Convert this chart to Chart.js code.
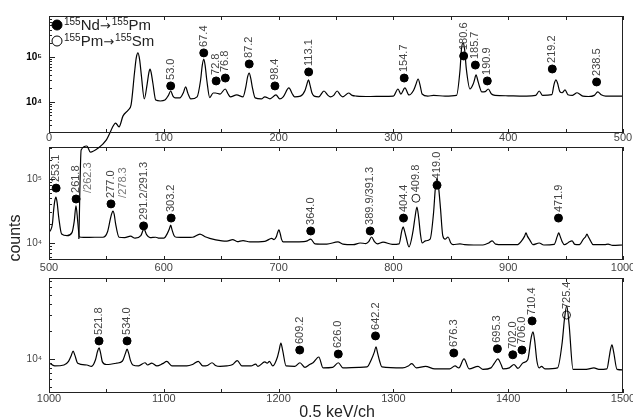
<!DOCTYPE html>
<html>
<head>
<meta charset="utf-8">
<script src="https://cdn.jsdelivr.net/npm/chart.js@4.4.1/dist/chart.umd.min.js"></script>
<style>
  html, body { margin: 0; padding: 0; background: #fff; }
  #wrap { position: relative; width: 633px; height: 420px; }
  canvas { position: absolute; left: 0; top: 0; }
</style>
</head>
<body>
<div id="wrap">
  <canvas id="p3" width="633" height="420"></canvas>
  <canvas id="p2" width="633" height="420"></canvas>
  <canvas id="p1" width="633" height="420"></canvas>
</div>
<script>
// spectrum, channels 0-500
const ch1 = [26, 28, 33, 36, 43, 50, 53, 55, 58, 61,
  64.5, 69, 71.5, 74.5, 76, 77.5, 79, 80.5, 83, 85.5,
  87, 88, 89, 90.5, 93, 97, 101, 104, 106, 108,
  110, 114, 117, 119, 121, 123.5, 129, 132, 133.5, 134.8,
  136, 137.5, 140, 143, 145, 149, 153.5, 156, 158, 163.5,
  169, 171.5, 173, 174.4, 175.8, 177, 179.6, 185, 188, 192.5,
  197.7, 201, 204, 209, 212, 214, 219, 223, 224.5, 226,
  227.5, 229, 231, 235, 239.5, 243, 245, 248, 251, 254,
  256, 261, 264, 268, 280, 290, 300, 304, 306.5, 310,
  313.6, 317.5, 319.5, 321.5, 323.5, 325, 330, 335, 345, 355,
  358, 359.3, 360.6, 362, 363.5, 366.7, 369.5, 370.5, 372, 373.5,
  375, 377, 380, 382.6, 385.5, 388.5, 400, 410, 416, 424,
  427, 430, 438, 440, 441.6, 443, 445, 447, 449.5, 452,
  456, 460, 465, 470, 475, 478, 481, 485, 500];
const cnt1 = [9, 860, 1050, 770, 950, 1440, 2040, 2640, 3400, 2800,
  4900, 6600, 8600, 45000, 95000, 123000, 85000, 38000, 11700, 25000,
  45000, 54000, 45000, 26000, 11000, 10500, 11000, 14000, 17500, 13500,
  12300, 12300, 16000, 21600, 15500, 11700, 13000, 30000, 65000, 90000,
  65000, 30000, 12500, 15800, 15800, 15000, 19400, 15000, 13000, 14300,
  13000, 22000, 36000, 44000, 33000, 22000, 12300, 11700, 13000, 11700,
  14300, 11700, 13000, 20500, 15000, 13000, 13500, 18000, 24000, 31000,
  23000, 16000, 13500, 13000, 17500, 14000, 13000, 14000, 17500, 14000,
  13000, 15800, 14000, 13500, 13200, 13300, 13500, 19400, 15000, 20500,
  14300, 18000, 24000, 32400, 22000, 15000, 13500, 14000, 13500, 14000,
  50000, 150000, 205000, 150000, 55000, 19400, 25000, 30000, 40000, 30000,
  22000, 16700, 17000, 19400, 15000, 14000, 13700, 13500, 13500, 14000,
  17500, 14000, 14500, 25000, 31000, 26000, 17000, 16000, 18500, 14500,
  14000, 16000, 13500, 13200, 14000, 16700, 14500, 13500, 13500];

// spectrum, channels 500-1000
const ch2 = [500, 503, 504, 505, 506, 507, 508.5, 511, 515.7, 520,
  522, 523.5, 525, 526.5, 530, 540, 547, 551, 553.5, 554.7,
  555.7, 556.8, 558, 561, 566, 571, 575, 580, 582.7, 585,
  588, 593, 596, 600, 603, 604.8, 606, 607.2, 609, 611,
  620, 625, 631.5, 636, 640, 650.7, 655, 660, 664, 669,
  675, 688, 694, 696, 698, 699.1, 700.3, 701.5, 702.5, 704,
  712, 722, 725, 728, 731.7, 742, 751.7, 756, 765, 771,
  776, 778.5, 781, 783.5, 786, 791, 799, 805, 807.3, 808.5,
  809.7, 811, 813.6, 817, 818.8, 820.5, 822, 823.5, 825, 828,
  832, 835, 836.5, 838, 839.5, 841, 843, 845, 847.6, 850,
  852, 858, 862, 870, 878, 883, 886, 889, 895, 907.7,
  912, 914.3, 915.5, 916.7, 919, 921.5, 927, 931, 940, 942.8,
  944, 945.2, 947, 949, 952.5, 955.6, 958, 962, 965.5, 967.4,
  968.6, 969.8, 971.5, 974, 984, 987, 991, 1000];
const cnt2 = [14400, 20000, 32000, 45000, 52000, 44000, 25000, 13800, 13000, 14500,
  22000, 38000, 22000, 12400, 12200, 12300, 12300, 15000, 24000, 29000,
  31600, 28000, 20000, 12300, 12100, 12800, 11900, 13000, 16600, 13500,
  12100, 12300, 11900, 11900, 14000, 16500, 19000, 16000, 13000, 12300,
  12200, 12300, 13800, 12500, 11800, 10800, 10700, 11300, 10500, 10900,
  10400, 10600, 11800, 11300, 12500, 14500, 16000, 13800, 11500, 10400,
  10400, 10500, 10800, 11500, 9700, 9600, 10400, 9600, 9400, 10000,
  9800, 10500, 12400, 10500, 9700, 10300, 9500, 9700, 15500, 17800,
  15500, 12500, 8700, 15000, 25000, 36500, 25000, 14000, 10000, 10800,
  11500, 30000, 70000, 103000, 70000, 35000, 13000, 11500, 12400, 10000,
  9400, 9700, 9400, 9300, 9300, 10000, 10800, 9600, 9400, 9400,
  11000, 12800, 14400, 12800, 11000, 9400, 10000, 9300, 9500, 12800,
  14400, 12800, 10500, 9400, 10200, 10800, 9500, 9400, 11500, 12500,
  13800, 12500, 11000, 9400, 9400, 9600, 9200, 9300];

// spectrum, channels 1000-1500
const ch3 = [1000, 1005, 1013, 1017, 1019.5, 1021, 1022.5, 1025, 1033, 1037,
  1040.5, 1042.2, 1043.6, 1045, 1046.5, 1050, 1059, 1064, 1066.6, 1068,
  1069.4, 1071, 1073, 1078, 1083.6, 1086, 1089.5, 1094, 1099, 1102.6,
  1107, 1120, 1125, 1130, 1134, 1138, 1142, 1145, 1149, 1155,
  1160, 1164, 1168, 1176, 1180, 1182, 1188, 1190, 1192, 1195,
  1199, 1200.5, 1202, 1203.5, 1206.5, 1214, 1218.6, 1223, 1227, 1230,
  1235, 1238.7, 1247, 1252, 1256, 1270, 1277, 1281, 1283.3, 1284.8,
  1286.3, 1288, 1290, 1308, 1313, 1316, 1320, 1328, 1336, 1349,
  1353.7, 1357, 1361.5, 1366, 1373.7, 1378, 1385, 1388, 1391, 1394,
  1395.5, 1401, 1405, 1408.5, 1413, 1417, 1420, 1421.6, 1423, 1425,
  1427, 1429, 1432, 1443, 1447, 1449, 1451, 1453, 1456.5, 1468,
  1474.7, 1479, 1486, 1488, 1489, 1490.4, 1491.8, 1494.8, 1500];
const cnt3 = [9100, 8400, 8600, 9400, 11000, 12200, 11000, 9000, 8600, 8300,
  9800, 12000, 13200, 11500, 9300, 8700, 9000, 9500, 11500, 12800,
  11500, 9600, 8600, 8400, 9100, 8600, 9000, 8400, 8900, 9400,
  8400, 8400, 8700, 9400, 8400, 8500, 9100, 8500, 8300, 8400,
  8700, 9600, 8400, 8400, 8800, 8300, 9300, 9000, 9400, 8400,
  10500, 12500, 14900, 12500, 8400, 8300, 9100, 8100, 8700, 9100,
  10500, 8000, 8100, 9100, 8000, 8100, 8200, 10000, 11800, 13500,
  11500, 9500, 8200, 8000, 8400, 8900, 8000, 8300, 7800, 7800,
  8400, 8000, 10000, 7800, 8300, 7700, 8000, 9000, 10000, 8600,
  7800, 8000, 8700, 7900, 9100, 9800, 17000, 19700, 16000, 9500,
  8000, 8300, 7800, 8000, 15000, 27000, 37700, 24000, 7700, 7700,
  8000, 7700, 7800, 10500, 12500, 14200, 12000, 7700, 7600];

// 155Nd -> 155Pm lines (keV, marker height in counts)
const ndKeV1 = [53.0, 67.4, 72.8, 76.8, 87.2, 98.4, 113.1, 154.7, 180.6, 185.7, 190.9, 219.2, 238.5];
const ndCnt1 = [22700, 123000, 29300, 34000, 69800, 22700, 46400, 34000, 105000, 66000, 29300, 54000, 27800];
const ndLab1 = ['53.0', '67.4', '72.8', '76.8', '87.2', '98.4', '113.1', '154.7', '180.6', '185.7', '190.9', '219.2', '238.5'];

const ndKeV2 = [253.1, 261.8, 277.0, 291.2, 303.2, 364.0, 389.9, 404.4, 419.0, 471.9];
const ndCnt2 = [72000, 48700, 40800, 18500, 24500, 15400, 15400, 24500, 80000, 24500];
const ndLab2 = ['253.1', '261.8\n/262.3', '277.0\n/278.3', '291.2/291.3', '303.2', '364.0', '389.9/391.3', '404.4', '419.0', '471.9'];

const ndKeV3 = [521.8, 534.0, 609.2, 626.0, 642.2, 676.3, 695.3, 702.0, 706.0, 710.4];
const ndCnt3 = [15700, 15700, 12500, 11300, 17800, 11600, 12900, 11100, 12500, 25900];
const ndLab3 = ['521.8', '534.0', '609.2', '626.0', '642.2', '676.3', '695.3', '702.0', '706.0', '710.4'];

// 155Pm -> 155Sm lines
const pmKeV2 = [409.8];
const pmCnt2 = [50000];
const pmLab2 = ['409.8'];
const pmKeV3 = [725.4];
const pmCnt3 = [30000];
const pmLab3 = ['725.4'];

const xTicks1 = [0, 50, 100, 150, 200, 250, 300, 350, 400, 450, 500];
const xTicks2 = [500, 550, 600, 650, 700, 750, 800, 850, 900, 950, 1000];
const xTicks3 = [1000, 1050, 1100, 1150, 1200, 1250, 1300, 1350, 1400, 1450, 1500];
const decades = [1e3, 1e4, 1e5];
const legendRows = [['155', 'Nd', '155', 'Pm'], ['155', 'Pm', '155', 'Sm']];
const xTitle = '0.5 keV/ch';
const yTitle = 'counts';

const FONT = '"Liberation Sans", Arial, Helvetica, sans-serif';
Chart.defaults.font.family = FONT;

const pts = (xs, ys, k) => xs.map((v, i) => ({ x: v * k, y: ys[i] }));
const isDecade = v => Math.abs(Math.log10(v) - Math.round(Math.log10(v))) < 1e-9;
const supDigits = { '3': '³', '4': '⁴', '5': '⁵', '6': '⁶' };

const frame = {
  id: 'frame',
  afterDraw(chart) {
    const { ctx, chartArea: a, scales: { x, y } } = chart;
    ctx.save();
    ctx.strokeStyle = '#222';
    ctx.lineWidth = 1;
    ctx.strokeRect(a.left + 0.5, a.top + 0.5, a.right - a.left - 1, a.bottom - a.top - 1);
    ctx.beginPath();
    x.ticks.forEach(t => {
      const px = Math.round(x.getPixelForValue(t.value)) + 0.5;
      ctx.moveTo(px, a.top); ctx.lineTo(px, a.top + 4);
      ctx.moveTo(px, a.bottom); ctx.lineTo(px, a.bottom - 4);
    });
    y.ticks.forEach(t => {
      const py = Math.round(y.getPixelForValue(t.value)) + 0.5;
      const len = isDecade(t.value) ? 6 : 3;
      ctx.moveTo(a.left, py); ctx.lineTo(a.left + len, py);
    });
    ctx.stroke();
    ctx.restore();
  }
};

// rotated line labels above each marker
const tags = {
  id: 'tags',
  afterDatasetsDraw(chart) {
    const ctx = chart.ctx;
    chart.data.datasets.forEach((ds, i) => {
      if (!ds.tags) return;
      chart.getDatasetMeta(i).data.forEach((pt, j) => {
        const lines = ds.tags[j].split('\n');
        ctx.save();
        ctx.translate(pt.x, pt.y - ds.pointRadius - 2);
        ctx.rotate(-Math.PI / 2);
        ctx.font = '11px ' + FONT;
        ctx.textAlign = 'left';
        ctx.textBaseline = 'middle';
        lines.forEach((s, k) => {
          ctx.fillStyle = k ? '#777' : '#444';
          ctx.fillText(s, 0, k * 12);
        });
        ctx.restore();
      });
    });
  }
};

const legendBox = {
  id: 'legendBox',
  afterDraw(chart) {
    const { ctx, chartArea: a } = chart;
    ctx.save();
    legendRows.forEach((row, r) => {
      const cy = a.top + 9 + r * 16;
      ctx.beginPath();
      ctx.arc(a.left + 8, cy, 5, 0, Math.PI * 2);
      ctx.lineWidth = 1;
      ctx.strokeStyle = '#000';
      ctx.fillStyle = r ? '#fff' : '#000';
      ctx.fill(); ctx.stroke();
      let x = a.left + 15;
      ctx.fillStyle = '#222';
      ctx.textBaseline = 'alphabetic';
      const parts = [[row[0], 'sup'], [row[1], 'el'], ['→', 'arr'], [row[2], 'sup'], [row[3], 'el']];
      parts.forEach(([s, kind]) => {
        ctx.font = kind === 'sup' ? '10px ' + FONT : kind === 'arr' ? '13px "DejaVu Sans", sans-serif' : '15px ' + FONT;
        ctx.fillText(s, x, cy + (kind === 'sup' ? 0 : 5));
        x += ctx.measureText(s).width + (kind === 'arr' ? 1 : 0);
      });
    });
    ctx.restore();
  }
};

const titles = {
  id: 'titles',
  afterDraw(chart) {
    const ctx = chart.ctx;
    ctx.save();
    ctx.fillStyle = '#222';
    ctx.font = '16px ' + FONT;
    ctx.textAlign = 'center';
    ctx.textBaseline = 'middle';
    ctx.fillText(xTitle, 337, 413);
    ctx.translate(16, 238);
    ctx.rotate(-Math.PI / 2);
    ctx.fillText(yTitle, 0, 0);
    ctx.restore();
  }
};

function panel(id, o) {
  const minor = [];
  decades.forEach(d => { for (let m = 1; m < 10; m++) minor.push(d * m); });
  return new Chart(document.getElementById(id), {
    type: 'line',
    data: {
      datasets: [
        { data: pts(o.ch, o.cnt, 1), borderColor: '#000', borderWidth: 1.2, pointRadius: 0,
          cubicInterpolationMode: 'monotone', clip: o.clip },
        { data: pts(o.ndKeV, o.ndCnt, 2), showLine: false, pointRadius: 4,
          pointBackgroundColor: '#000', pointBorderColor: '#000', tags: o.ndLab },
        { data: pts(o.pmKeV, o.pmCnt, 2), showLine: false, pointRadius: 4, pointBorderWidth: 1,
          pointBackgroundColor: '#fff', pointBorderColor: '#222', tags: o.pmLab }
      ]
    },
    options: {
      responsive: false,
      animation: false,
      events: [],
      layout: { padding: { left: 9, right: 10, top: o.top, bottom: 420 - o.bottom - 14 } },
      plugins: { legend: { display: false }, tooltip: { enabled: false } },
      scales: {
        x: {
          type: 'linear', min: o.xTicks[0], max: o.xTicks[o.xTicks.length - 1],
          afterBuildTicks: s => { s.ticks = o.xTicks.map(v => ({ value: v })); },
          afterFit: s => { s.height = 14; s.paddingLeft = 0; s.paddingRight = 0; },
          grid: { display: false, drawTicks: false }, border: { display: false },
          ticks: { autoSkip: false, maxRotation: 0, padding: o.xPad, color: '#444', font: { size: 11 },
                   callback: v => (v % 100 === 0 ? String(v) : '') }
        },
        y: {
          type: 'logarithmic', min: o.yMin, max: o.yMax,
          afterBuildTicks: s => { s.ticks = minor.filter(v => v >= s.min && v <= s.max).map(v => ({ value: v })); },
          afterFit: s => { s.width = 40; s.paddingTop = 0; s.paddingBottom = 0; },
          grid: { display: false, drawTicks: false }, border: { display: false },
          ticks: { autoSkip: false, padding: 7, color: o.yBold ? '#000' : '#444',
                   font: { size: 10, weight: o.yBold ? 'bold' : 'normal' },
                   callback: v => (isDecade(v) ? '10' + supDigits[String(Math.round(Math.log10(v)))] : '') }
        }
      }
    },
    plugins: [frame, tags].concat(o.extra || [])
  });
}

panel('p3', { ch: ch3, cnt: cnt3, ndKeV: ndKeV3, ndCnt: ndCnt3, ndLab: ndLab3, pmKeV: pmKeV3, pmCnt: pmCnt3, pmLab: pmLab3,
  xTicks: xTicks3, top: 278, bottom: 393, yMin: Math.pow(10, 3.63), yMax: Math.pow(10, 4.88), xPad: -1, clip: true, extra: [titles] });
panel('p2', { ch: ch2, cnt: cnt2, ndKeV: ndKeV2, ndCnt: ndCnt2, ndLab: ndLab2, pmKeV: pmKeV2, pmCnt: pmCnt2, pmLab: pmLab2,
  xTicks: xTicks2, top: 147, bottom: 260, yMin: Math.pow(10, 3.734), yMax: Math.pow(10, 5.5), xPad: 1, clip: true });
panel('p1', { ch: ch1, cnt: cnt1, ndKeV: ndKeV1, ndCnt: ndCnt1, ndLab: ndLab1, pmKeV: [], pmCnt: [], pmLab: [],
  xTicks: xTicks1, top: 16, bottom: 133, yMin: Math.pow(10, 3.31), yMax: Math.pow(10, 5.91), xPad: -2, clip: false, yBold: true,
  extra: [legendBox] });
</script>
</body>
</html>
